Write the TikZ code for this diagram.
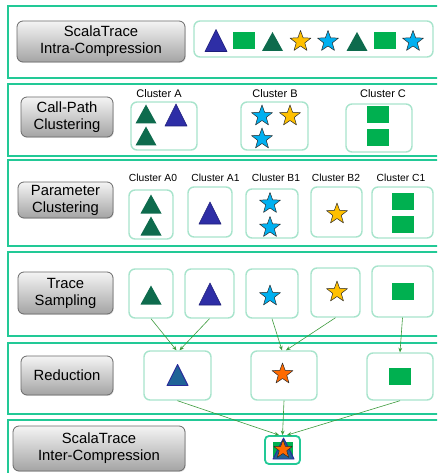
\documentclass[tikz,border=0pt]{standalone}
\usepackage{fontspec}
\setmainfont{Liberation Sans}
\usetikzlibrary{arrows.meta,shadows}

\definecolor{bandc}{HTML}{22C996}
\definecolor{cboxc}{HTML}{A8E4CC}
\definecolor{btnline}{HTML}{6A6A6A}
\definecolor{btntop}{HTML}{F4F4F4}
\definecolor{btnbot}{HTML}{A4A4A4}
\definecolor{dgreen}{HTML}{0E6B4D}
\definecolor{tblue}{HTML}{2E2EA6}
\definecolor{tblueD}{HTML}{1E1E7A}
\definecolor{sqgreen}{HTML}{00B050}
\definecolor{syellow}{HTML}{FFC000}
\definecolor{sblue}{HTML}{00B0F0}
\definecolor{sorange}{HTML}{FF6A00}
\definecolor{starline}{HTML}{2A2A2A}
\definecolor{rtri}{HTML}{1F6397}
\definecolor{rtriD}{HTML}{2B2B9A}
\definecolor{arrc}{HTML}{3C9A3C}

\begin{document}
\begin{tikzpicture}[x=1pt,y=-1pt,
  band/.style={draw=bandc,line width=2pt},
  btn/.style={draw=btnline,line width=0.8pt,rounded corners=6pt,
    top color=btntop,bottom color=btnbot,align=center,inner sep=0pt,
    font=\fontsize{14.8}{17}\selectfont,
    drop shadow={opacity=0.25,shadow xshift=0.8pt,shadow yshift=-0.9pt}},
  cbox/.style={draw=cboxc,line width=1.4pt,rounded corners=6pt,fill=white,inner sep=0pt},
  finbox/.style={draw=bandc,line width=1.8pt,rounded corners=4pt,fill=white,inner sep=0pt},
  clabA/.style={inner sep=0pt,font=\fontsize{11}{13}\selectfont},
  clabB/.style={inner sep=0pt,font=\fontsize{10.3}{12}\selectfont},
  arr/.style={draw=arrc,line width=0.6pt,-{Stealth[length=4.5pt,width=3.8pt]}},
  dgtri/.pic={\fill[dgreen] (-10.5,9.5) -- (10.5,9.5) -- (0,-9.5) -- cycle;},
  bltri/.pic={\filldraw[fill=tblue,draw=tblueD,line width=0.6pt,line join=round]
    (-11,11) -- (11,11) -- (0,-11) -- cycle;},
  gsq/.pic={\fill[sqgreen] (-11,-8.5) rectangle (11,8.5);},
  fstar/.pic={\filldraw[fill=#1,draw=starline,line width=0.5pt,line join=round]
    (-90:11) -- (-54:4.5) -- (-18:11) -- (18:4.5) -- (54:11) -- (90:4.5)
    -- (126:11) -- (162:4.5) -- (198:11) -- (234:4.5) -- cycle;},
  redtri/.pic={\filldraw[fill=rtri,draw=rtriD,line width=0.9pt,line join=round]
    (-10.5,10.5) -- (10.5,10.5) -- (0,-10.5) -- cycle;},
]
\clip (0,0) rectangle (437,473);

% stage bands
\draw[band] (8,6) rectangle (450,78);
\draw[band] (8,84) rectangle (450,156);
\draw[band] (8,160) rectangle (450,246);
\draw[band] (8,252) rectangle (450,336);
\draw[band] (8,343) rectangle (450,414);
\draw[band] (8,420) rectangle (450,490);

% stage buttons
\node[btn,minimum width=168pt,minimum height=41pt] (b1) at (101,41.5) {ScalaTrace\\Intra-Compression};
\node[btn,minimum width=92pt,minimum height=40pt] (b2) at (67,117) {Call-Path\\Clustering};
\node[btn,minimum width=95pt,minimum height=36pt] (b3) at (65.5,200) {Parameter\\Clustering};
\node[btn,minimum width=95pt,minimum height=42pt] (b4) at (65.5,293) {Trace\\Sampling};
\node[btn,minimum width=92pt,minimum height=39pt] (b5) at (67,375.5) {Reduction};
\node[btn,minimum width=172pt,minimum height=45pt] (b6) at (99,448.5) {ScalaTrace\\Inter-Compression};

% stage 1: full trace
\node[cbox,minimum width=239pt,minimum height=36pt] (c1) at (313.5,39) {};
\pic at (216,40.5) {bltri};
\pic at (244,40.5) {gsq};
\pic at (272.5,41.5) {dgtri};
\pic at (300.5,41.5) {fstar=syellow};
\pic at (328,41.5) {fstar=sblue};
\pic at (357,41.5) {dgtri};
\pic at (384.5,40.5) {gsq};
\pic at (413,41.5) {fstar=sblue};

% stage 2: call-path clusters
\node[clabA] (l2a) at (159,94) {Cluster A};
\node[clabA] (l2b) at (275,94) {Cluster B};
\node[clabA] (l2c) at (383,94) {Cluster C};
\node[cbox,minimum width=66pt,minimum height=48pt] (c2a) at (164,126) {};
\node[cbox,minimum width=67pt,minimum height=48pt] (c2b) at (274.5,126) {};
\node[cbox,minimum width=66pt,minimum height=48pt] (c2c) at (379,128) {};
\pic at (146,114) {dgtri};
\pic at (176,115) {bltri};
\pic at (146,136) {dgtri};
\pic at (262,116) {fstar=sblue};
\pic at (290,116) {fstar=syellow};
\pic at (262,139) {fstar=sblue};
\pic at (378,115) {gsq};
\pic at (378,138) {gsq};

% stage 3: parameter clusters
\node[clabB] (l3a0) at (153,178) {Cluster A0};
\node[clabB] (l3a1) at (215.5,178) {Cluster A1};
\node[clabB] (l3b1) at (276,178) {Cluster B1};
\node[clabB] (l3b2) at (336,178) {Cluster B2};
\node[clabB] (l3c1) at (401,178) {Cluster C1};
\node[cbox,minimum width=44pt,minimum height=49pt] (c3a0) at (151,214.5) {};
\node[cbox,minimum width=44pt,minimum height=50pt] (c3a1) at (210,212) {};
\node[cbox,minimum width=52pt,minimum height=49pt] (c3b1) at (272,213.5) {};
\node[cbox,minimum width=51pt,minimum height=50pt] (c3b2) at (336.5,212) {};
\node[cbox,minimum width=61pt,minimum height=51pt] (c3c1) at (402.5,212.5) {};
\pic at (151,204) {dgtri};
\pic at (151,226) {dgtri};
\pic at (210,213) {bltri};
\pic at (270,203.5) {fstar=sblue};
\pic at (270,227.5) {fstar=sblue};
\pic at (337,214) {fstar=syellow};
\pic at (403,201) {gsq};
\pic at (403,224) {gsq};

% stage 4: sampled traces
\node[cbox,minimum width=44pt,minimum height=49pt] (c4a0) at (151,293.5) {};
\node[cbox,minimum width=49pt,minimum height=49pt] (c4a1) at (209.5,293.5) {};
\node[cbox,minimum width=52pt,minimum height=49pt] (c4b1) at (272,293.5) {};
\node[cbox,minimum width=49pt,minimum height=49pt] (c4b2) at (335.5,292.5) {};
\node[cbox,minimum width=61pt,minimum height=51pt] (c4c1) at (402.5,291.5) {};
\pic at (151,295) {dgtri};
\pic at (210,294) {bltri};
\pic at (270,296) {fstar=sblue};
\pic at (337,292) {fstar=syellow};
\pic at (403,291) {gsq};

% stage 5: reduced traces
\node[cbox,minimum width=67pt,minimum height=49pt] (c5a) at (177.5,375.5) {};
\node[cbox,minimum width=66pt,minimum height=49pt] (c5b) at (284,375.5) {};
\node[cbox,minimum width=66pt,minimum height=47pt] (c5c) at (400,376.5) {};
\pic at (177.5,375) {redtri};
\pic at (282.5,374) {fstar=sorange};
\pic at (400,376.5) {gsq};

% stage 6: merged trace
\node[finbox,minimum width=35pt,minimum height=28pt] (fin) at (282.5,450) {};
\pic[scale=0.9] at (283,449.5) {gsq};
\pic at (283.5,448.5) {redtri};
\pic[scale=0.88] at (283,449.5) {fstar=sorange};

% data flow
\draw[arr] (c4a0.south) -- ([xshift=-1pt]c5a.north);
\draw[arr] (c4a1.south) -- ([xshift=2pt]c5a.north);
\draw[arr] (c4b1.south) -- ([xshift=-2pt]c5b.north);
\draw[arr] (c4b2.south) -- ([xshift=2pt]c5b.north);
\draw[arr] (c4c1.south) -- (c5c.north);
\draw[arr] (c5a.south) -- ([xshift=-3.5pt]fin.north);
\draw[arr] (c5b.south) -- (fin.north);
\draw[arr] (c5c.south) -- ([xshift=4.5pt]fin.north);
\end{tikzpicture}
\end{document}
